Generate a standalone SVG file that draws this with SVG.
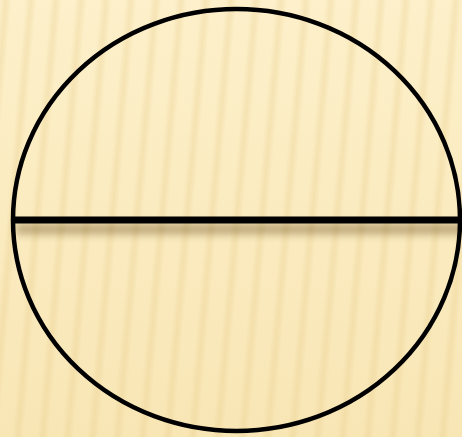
<svg xmlns="http://www.w3.org/2000/svg" width="462" height="437" viewBox="0 0 462 437">
  <defs>
    <linearGradient id="bgGrad" x1="0" y1="0" x2="0" y2="1">
      <stop offset="0" stop-color="#FDF0CA"/>
      <stop offset="1" stop-color="#F8E6B5"/>
    </linearGradient>
    <linearGradient id="stripeGrad" x1="0" y1="0" x2="1" y2="0">
      <stop offset="0" stop-color="#E5C885" stop-opacity="0"/>
      <stop offset="0.5" stop-color="#E5C885" stop-opacity="0.3"/>
      <stop offset="1" stop-color="#E5C885" stop-opacity="0"/>
    </linearGradient>
    <pattern id="stripes" x="0" y="0" width="25" height="437" patternUnits="userSpaceOnUse" patternTransform="skewX(-5)">
      <rect x="0" y="0" width="12" height="437" fill="url(#stripeGrad)"/>
    </pattern>
    <filter id="blur" x="-10%" y="-100%" width="120%" height="300%">
      <feGaussianBlur stdDeviation="4"/>
    </filter>
    <style>
      .shape { fill: none; stroke: #000; }
    </style>
  </defs>
  <rect width="462" height="437" fill="url(#bgGrad)"/>
  <rect width="462" height="437" fill="url(#stripes)"/>
  <g id="shadow">
    <rect x="16" y="224" width="450" height="10" fill="#6B4E1E" opacity="0.45" filter="url(#blur)"/>
  </g>
  <g id="circle">
    <ellipse class="shape" cx="236.5" cy="220" rx="223.5" ry="211" stroke-width="4.5"/>
  </g>
  <g id="diameter">
    <line class="shape" x1="12" y1="220" x2="462" y2="220" stroke-width="7"/>
  </g>
</svg>
